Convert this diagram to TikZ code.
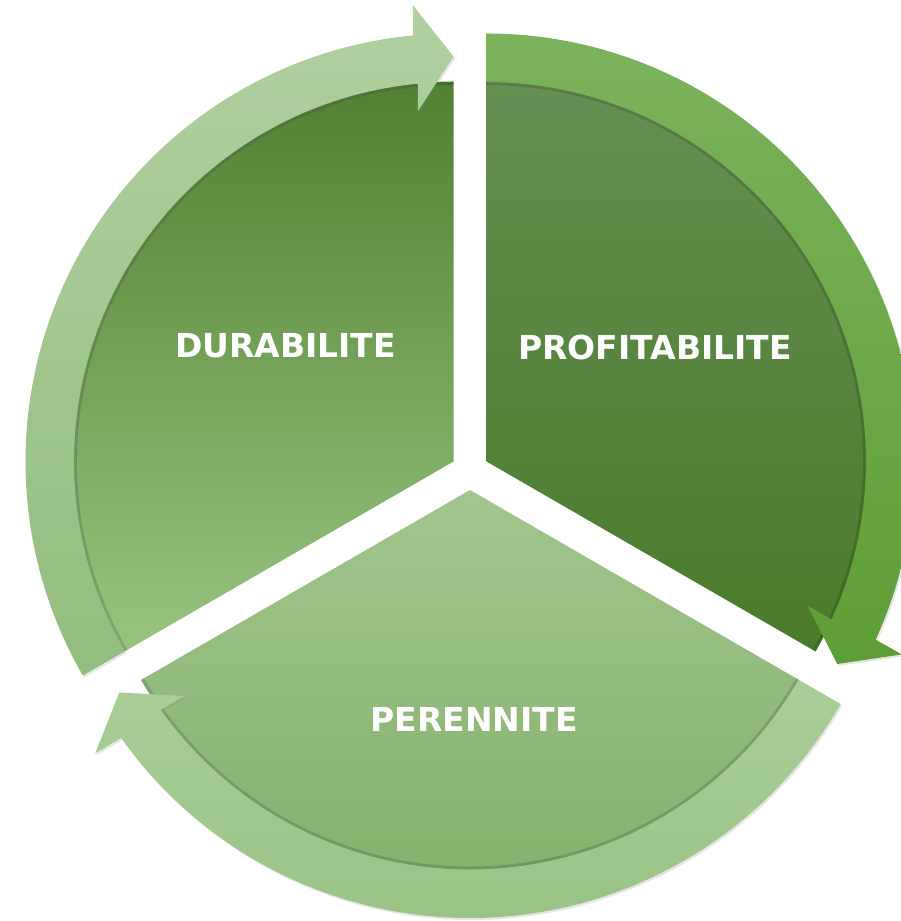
\documentclass[tikz,border=0pt]{standalone}
\usepackage{fontspec}
\setmainfont{DejaVu Sans}
\usetikzlibrary{calc,shadows}

\definecolor{durtop}{HTML}{518132}
\definecolor{durmid}{HTML}{68994E}
\definecolor{durbot}{HTML}{98C480}
\definecolor{protop}{HTML}{658F52}
\definecolor{promid}{HTML}{4F8131}
\definecolor{probot}{HTML}{4A7B2B}
\definecolor{pertop}{HTML}{A2C68D}
\definecolor{permid}{HTML}{86B26E}
\definecolor{perbot}{HTML}{82AE6A}
\definecolor{durbandtop}{HTML}{B0D0A0}
\definecolor{durbandmid}{HTML}{A4C990}
\definecolor{durbandbot}{HTML}{93BD7D}
\definecolor{probandtop}{HTML}{7BB35C}
\definecolor{probandmid}{HTML}{6AA843}
\definecolor{probandbot}{HTML}{5E9E36}
\definecolor{perbandtop}{HTML}{A9CE97}
\definecolor{perbandbot}{HTML}{9AC385}

\begin{document}
\begin{tikzpicture}[
        x=1pt, y=1pt,
        sector/.style={draw=none},
        rimshade/.style={draw=black, opacity=0.14, line width=3pt},
        band/.style={draw=none, drop shadow={opacity=0.2, shadow xshift=1.5pt, shadow yshift=-2pt}},
        segtext/.style={text=white, font=\bfseries\fontsize{33}{34}\selectfont}
    ]
    \useasboundingbox (0,0) rectangle (901,921);
    \coordinate (L) at (453.5,459.5);
    \coordinate (R) at (486.5,459.5);
    \coordinate (B) at (470,431);

    \path[sector, top color=durtop, middle color=durmid, bottom color=durbot]
        (L) -- ($(L)+(210:380pt)$) arc[start angle=210, end angle=90, radius=380pt] -- cycle;
    \path[sector, top color=protop, middle color=promid, bottom color=probot]
        (R) -- ($(R)+(90:380pt)$) arc[start angle=90, end angle=-30, radius=380pt] -- cycle;
    \path[sector, top color=pertop, middle color=permid, bottom color=perbot]
        (B) -- ($(B)+(330:380pt)$) arc[start angle=330, end angle=210, radius=380pt] -- cycle;

    \draw[rimshade] ($(L)+(210:378pt)$) arc[start angle=210, end angle=90, radius=378pt];
    \draw[rimshade] ($(R)+(90:378pt)$) arc[start angle=90, end angle=-30, radius=378pt];
    \draw[rimshade] ($(B)+(330:378pt)$) arc[start angle=330, end angle=210, radius=378pt];

    \path[band, top color=durbandtop, middle color=durbandmid, bottom color=durbandbot]
        ($(L)+(210:428pt)$) arc[start angle=210, end angle=95.4, radius=428pt]
        -- ($(L)+(95.4:405pt)+(92.7:53pt)$)
        -- ($(L)+(90:405pt)$)
        -- ($(L)+(95.4:405pt)+(92.7:-53pt)$)
        -- ($(L)+(95.4:379.5pt)$)
        arc[start angle=95.4, end angle=210, radius=379.5pt] -- cycle;
    \path[band, top color=probandtop, middle color=probandmid, bottom color=probandbot]
        ($(R)+(90:428pt)$) arc[start angle=90, end angle=-24.6, radius=428pt]
        -- ($(R)+(-24.6:405pt)+(-27.3:53pt)$)
        -- ($(R)+(-30:405pt)$)
        -- ($(R)+(-24.6:405pt)+(-27.3:-53pt)$)
        -- ($(R)+(-24.6:379.5pt)$)
        arc[start angle=-24.6, end angle=90, radius=379.5pt] -- cycle;
    \path[band, top color=perbandtop, bottom color=perbandbot]
        ($(B)+(330:428pt)$) arc[start angle=330, end angle=215.4, radius=428pt]
        -- ($(B)+(215.4:405pt)+(212.7:53pt)$)
        -- ($(B)+(210:405pt)$)
        -- ($(B)+(215.4:405pt)+(212.7:-53pt)$)
        -- ($(B)+(215.4:379.5pt)$)
        arc[start angle=215.4, end angle=330, radius=379.5pt] -- cycle;

    \node[segtext] (dur) at (285.5,575) {DURABILITE};
    \node[segtext] (pro) at (655,574) {PROFITABILITE};
    \node[segtext] (per) at (474,202) {PERENNITE};
\end{tikzpicture}
\end{document}
